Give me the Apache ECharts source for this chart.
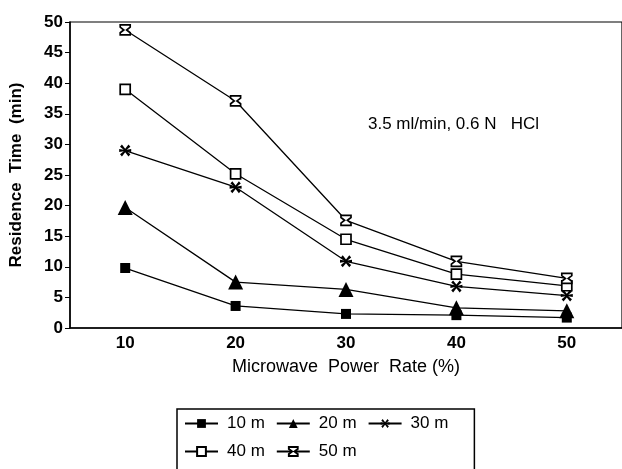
<!DOCTYPE html>
<html>
<head>
<meta charset="utf-8">
<script src="https://cdn.jsdelivr.net/npm/echarts@6/dist/echarts.min.js"></script>
<style>html,body{margin:0;padding:0;background:#fff;}#c{width:622px;height:469px;}</style>
</head>
<body>
<div id="c"></div>
<script>
var categories = ['10', '20', '30', '40', '50'];
var yTicks = [0, 5, 10, 15, 20, 25, 30, 35, 40, 45, 50];
var s10 = [9.8, 3.6, 2.3, 2.1, 1.7];
var s20 = [19.7, 7.5, 6.3, 3.3, 2.8];
var s30 = [29.0, 23.0, 10.9, 6.8, 5.3];
var s40 = [39.0, 25.2, 14.5, 8.8, 6.9];
var s50 = [48.7, 37.1, 17.6, 10.9, 8.1];
var seriesNames = ['10 m', '20 m', '30 m', '40 m', '50 m'];

function starPath(angles) {
  var pts = [];
  var outer = 5, inner = 1.3, w = 0.22;
  var sorted = angles.slice().sort(function (a, b) { return a - b; });
  for (var i = 0; i < sorted.length; i++) {
    var a = sorted[i] * Math.PI / 180;
    var nxt = (i + 1 < sorted.length ? sorted[i + 1] : sorted[0] + 360) * Math.PI / 180;
    pts.push([5 + outer * Math.cos(a - w), 5 + outer * Math.sin(a - w)]);
    pts.push([5 + outer * Math.cos(a + w), 5 + outer * Math.sin(a + w)]);
    var mid = (a + nxt) / 2;
    pts.push([5 + inner * Math.cos(mid), 5 + inner * Math.sin(mid)]);
  }
  return 'path://M' + pts.map(function (p) { return p[0].toFixed(2) + ',' + p[1].toFixed(2); }).join(' L') + ' Z';
}
var asterisk = starPath([0, 45, 135, 180, 225, 315]);
var hourglass = 'path://M0,0 L10,0 L10,2.2 L6.4,5 L10,7.8 L10,10 L0,10 L0,7.8 L3.6,5 L0,2.2 Z';

var FONT = '"Liberation Sans", Arial, Helvetica, sans-serif';

function mk(name, data, symbol, size, filled) {
  return {
    name: name,
    type: 'line',
    data: data,
    symbol: symbol,
    symbolSize: size,
    showAllSymbol: true,
    lineStyle: { color: '#000', width: 1.3 },
    itemStyle: filled ? { color: '#000', borderWidth: 0 } : { color: '#fff', borderColor: '#000', borderWidth: 1.7 },
    emphasis: { disabled: true },
    z: 3
  };
}

var chart = echarts.init(document.getElementById('c'), null, { renderer: 'canvas' });
chart.setOption({
  backgroundColor: '#fff',
  animation: false,
  grid: { left: 69, top: 22, bottom: 141, right: -5, show: true, borderColor: '#000', borderWidth: 1.2, containLabel: false },
  xAxis: {
    type: 'category',
    data: categories,
    boundaryGap: true,
    axisLine: { lineStyle: { color: '#000', width: 1.5 } },
    axisTick: { show: false },
    axisLabel: { color: '#000', fontSize: 17, fontFamily: FONT, fontWeight: 'bold', margin: 7 },
    name: 'Microwave  Power  Rate (%)',
    nameLocation: 'middle',
    nameGap: 30,
    nameTextStyle: { color: '#000', fontSize: 18, fontFamily: FONT }
  },
  yAxis: {
    type: 'value',
    min: yTicks[0],
    max: yTicks[yTicks.length - 1],
    interval: 5,
    splitLine: { show: false },
    axisLine: { show: true, lineStyle: { color: '#000', width: 1.5 } },
    axisTick: { show: true, inside: false, length: 5, lineStyle: { color: '#000', width: 1 } },
    axisLabel: { color: '#000', fontSize: 17, fontFamily: FONT, fontWeight: 'bold', margin: 7 },
    name: 'Residence  Time  (min)',
    nameLocation: 'middle',
    nameGap: 45,
    nameTextStyle: { color: '#000', fontSize: 17, fontFamily: FONT, fontWeight: 'bold' }
  },
  legend: {
    left: 177,
    top: 409,
    width: 276,
    padding: [6, 26, 40, 7],
    itemWidth: 33,
    itemHeight: 11,
    itemGap: 11,
    borderColor: '#000',
    borderWidth: 1.5,
    data: seriesNames,
    textStyle: { color: '#000', fontSize: 17, fontFamily: FONT, padding: [0, 0, 0, 4] },
    inactiveColor: '#000',
    selectedMode: false
  },
  graphic: [{
    type: 'text',
    left: 368,
    top: 116,
    style: { text: '3.5 ml/min, 0.6 N   HCl', fill: '#000', font: '17px ' + FONT }
  }],
  series: [
    mk(seriesNames[0], s10, 'rect', 10, true),
    mk(seriesNames[1], s20, 'triangle', 15, true),
    mk(seriesNames[2], s30, asterisk, 12, true),
    mk(seriesNames[3], s40, 'rect', 10, false),
    mk(seriesNames[4], s50, hourglass, 10, false)
  ]
});
</script>
</body>
</html>
